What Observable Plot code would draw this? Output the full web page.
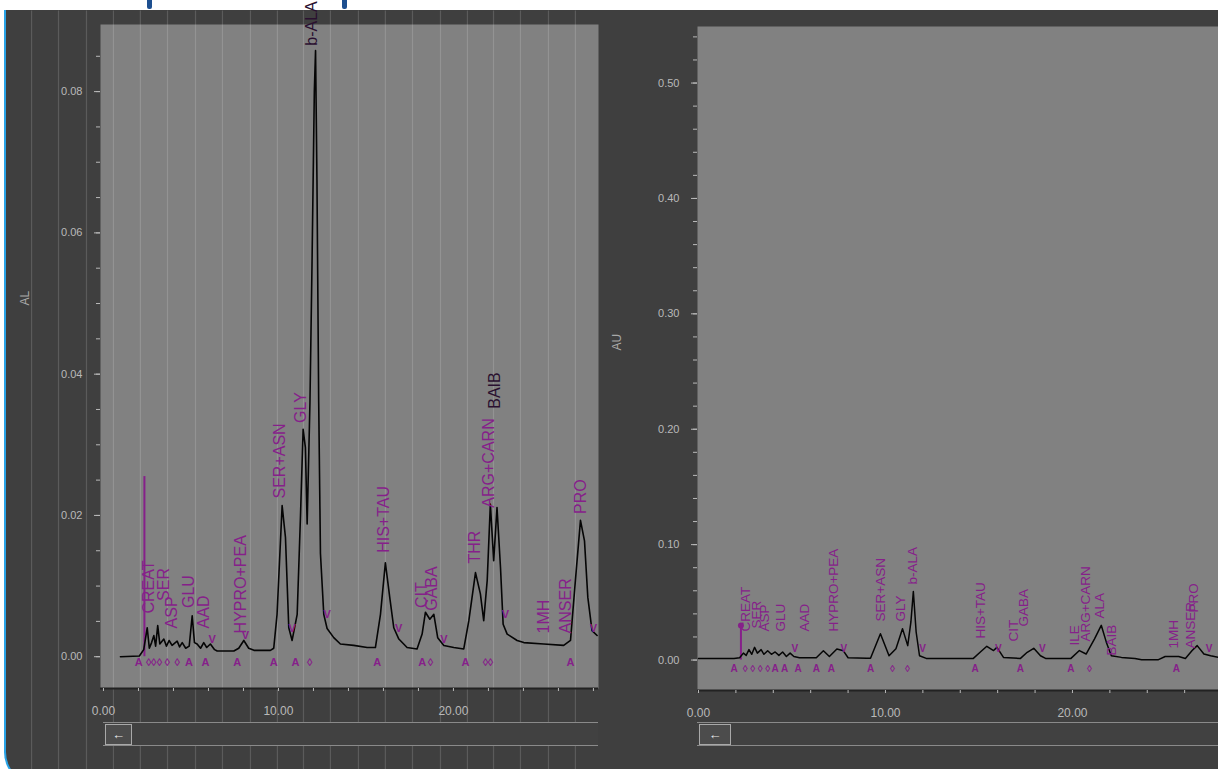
<!DOCTYPE html>
<html>
<head>
<meta charset="utf-8">
<script src="https://cdn.jsdelivr.net/npm/d3@7"></script>
<script src="https://cdn.jsdelivr.net/npm/@observablehq/plot@0.6"></script>
<style>
  html, body { margin: 0; padding: 0; background: #ffffff; width: 1218px; height: 769px; overflow: hidden; }
  body { position: relative; font-family: "Liberation Sans", Arial, sans-serif; }
  #frame { position: absolute; left: 4px; top: 10px; width: 1230px; height: 776px; box-sizing: border-box;
           background: #3f3f3f; border-left: 2px solid #29a3e6; border-bottom: 2px solid #29a3e6; border-bottom-left-radius: 34px; }
  .tfrag { position: absolute; top: 0; width: 5px; height: 9px; background: #1d4f8f; border-radius: 0 0 2px 2px; }
  .pane { position: absolute; top: 10px; }
  .scroll { position: absolute; top: 722px; height: 24px; box-sizing: border-box; border-top: 1px solid #8a8a8a; border-bottom: 1px solid #8a8a8a; background: #414141; }
  .btn { position: absolute; top: 724px; height: 21px; box-sizing: border-box; border: 1px solid #a9a9a9; background: #4c4c4c;
         color: #e8e8e8; font-size: 13px; line-height: 19px; text-align: center; }
</style>
</head>
<body>
<div id="frame"></div>
<div class="tfrag" style="left:147px"></div>
<div class="tfrag" style="left:342px"></div>
<div id="left" class="pane" style="left:6px"></div>
<div id="right" class="pane" style="left:600px"></div>
<div class="scroll" style="left:103px;width:495px"></div>
<div class="btn" style="left:105px;width:27px">&#8592;</div>
<div class="scroll" style="left:697px;width:521px"></div>
<div class="btn" style="left:699px;width:32px">&#8592;</div>
<script>
// ---------------- LEFT PANEL DATA (minutes, AU) ----------------
const leftTime = [0.97, 2.05, 2.30, 2.50, 2.62, 2.75, 2.88, 2.98, 3.10, 3.22, 3.45, 3.60, 3.75, 3.92, 4.21, 4.35, 4.50, 4.70, 4.90, 5.07,
  5.20, 5.35, 5.55, 5.73, 5.90, 6.11, 6.35, 6.50, 7.45, 7.73, 8.02, 8.30, 8.60, 9.54, 9.73, 9.92, 10.21, 10.40, 10.59, 10.78,
  11.07, 11.26, 11.41, 11.54, 11.64, 11.80, 11.92, 12.05, 12.12, 12.20, 12.30, 12.40, 12.59, 12.78, 13.16, 13.54, 14.30, 15.07, 15.54, 15.83,
  16.11, 16.36, 16.59, 16.88, 17.35, 17.92, 18.21, 18.40, 18.65, 18.88, 19.10, 19.45, 20.02, 20.59, 20.88, 21.26, 21.54, 21.73, 21.93, 22.11,
  22.30, 22.49, 22.69, 22.84, 23.07, 23.64, 24.02, 25.16, 26.30, 26.69, 26.97, 27.26, 27.49, 27.68, 27.92, 28.21];
const leftSignal = [0.0000, 0.0001, 0.0010, 0.0041, 0.0012, 0.0020, 0.0030, 0.0015, 0.0044, 0.0018, 0.0025, 0.0015, 0.0023, 0.0016, 0.0022, 0.0014, 0.0020, 0.0012, 0.0015, 0.0058,
  0.0020, 0.0018, 0.0012, 0.0020, 0.0013, 0.0018, 0.0010, 0.0008, 0.0008, 0.0012, 0.0023, 0.0012, 0.0009, 0.0009, 0.0012, 0.0060, 0.0214, 0.0169, 0.0041, 0.0023,
  0.0060, 0.0200, 0.0322, 0.0296, 0.0188, 0.0360, 0.0560, 0.0800, 0.0858, 0.0675, 0.0360, 0.0146, 0.0060, 0.0040, 0.0027, 0.0018, 0.0016, 0.0013, 0.0013, 0.0060,
  0.0133, 0.0084, 0.0041, 0.0025, 0.0013, 0.0011, 0.0032, 0.0063, 0.0053, 0.0060, 0.0027, 0.0016, 0.0013, 0.0011, 0.0051, 0.0119, 0.0089, 0.0051, 0.0108, 0.0216,
  0.0136, 0.0211, 0.0126, 0.0046, 0.0032, 0.0023, 0.0020, 0.0018, 0.0016, 0.0023, 0.0108, 0.0193, 0.0164, 0.0084, 0.0037, 0.0030];

const leftLabelNames = ["CREAT", "SER", "ASP", "GLU", "AAD", "HYPRO+PEA", "SER+ASN", "GLY", "b-ALA", "HIS+TAU", "CIT", "GABA", "THR", "ARG+CARN", "BAIB", "1MH", "ANSER", "PRO"];
const leftLabelTimes = [2.57, 3.43, 3.92, 4.88, 5.73, 7.83, 10.08, 11.26, 11.89, 16.02, 18.21, 18.78, 21.20, 22.02, 22.34, 25.16, 26.40, 27.26];
const leftLabelLevels = [0.0061, 0.0079, 0.0040, 0.0069, 0.0040, 0.0033, 0.0224, 0.0331, 0.0865, 0.0147, 0.0069, 0.0065, 0.0132, 0.0211, 0.0351, 0.0033, 0.0033, 0.0202];

const leftSpikeTime = [2.34];
const leftSpikeTop = [0.0255];

const leftMarkTime = [2.02, 4.88, 5.83, 7.64, 9.73, 10.97, 15.64, 18.21, 20.69, 26.69,
  2.59, 2.87, 3.20, 3.64, 4.21, 11.79, 18.69, 21.83, 22.11,
  6.21, 8.11, 10.78, 12.78, 16.87, 19.45, 22.97, 28.00];
const leftMarkLevel = [-0.0008, -0.0008, -0.0008, -0.0008, -0.0008, -0.0008, -0.0008, -0.0008, -0.0008, -0.0008,
  -0.0008, -0.0008, -0.0008, -0.0008, -0.0008, -0.0008, -0.0008, -0.0008, -0.0008,
  0.0025, 0.0030, 0.0040, 0.0060, 0.0040, 0.0025, 0.0060, 0.0040];
const leftMarkGlyph = ["A", "A", "A", "A", "A", "A", "A", "A", "A", "A",
  "\u25CA", "\u25CA", "\u25CA", "\u25CA", "\u25CA", "\u25CA", "\u25CA", "\u25CA", "\u25CA",
  "V", "V", "V", "V", "V", "V", "V", "V"];

const leftStripes = [-4.11, -2.57, -0.97, 0.57, 2.11, 3.66, 5.26, 6.80, 8.40, 9.94, 11.43, 12.97, 14.57, 16.11, 17.66, 19.26, 20.80, 22.29, 23.83, 25.43, 26.97];

const leftXTicks = [0, 2, 4, 6, 8, 10, 12, 14, 16, 18, 20, 22, 24, 26, 28];
const leftYMinor = [0, 0.005, 0.01, 0.015, 0.02, 0.025, 0.03, 0.035, 0.04, 0.045, 0.05, 0.055, 0.06, 0.065, 0.07, 0.075, 0.08, 0.085];
const leftYMajor = [0, 0.02, 0.04, 0.06, 0.08];

// ---------------- RIGHT PANEL DATA ----------------
const rightTime = [0.00, 1.90, 2.20, 2.40, 2.55, 2.70, 2.85, 3.00, 3.15, 3.35, 3.50, 3.70, 3.90, 4.10, 4.30, 4.50, 4.70, 4.90, 5.10, 5.40,
  6.30, 6.68, 7.00, 7.40, 7.75, 8.00, 9.00, 9.20, 9.73, 10.19, 10.56, 10.91, 11.19, 11.36, 11.49, 11.64, 11.82, 12.18, 14.70, 15.06,
  15.42, 15.78, 15.96, 16.31, 17.22, 17.58, 17.93, 18.29, 18.56, 19.92, 20.37, 20.73, 21.18, 21.54, 21.81, 22.08, 22.62, 23.34, 23.70, 24.60,
  24.96, 25.68, 26.04, 26.40, 26.67, 27.03, 27.39, 27.80];
const rightSignal = [0.0014, 0.0014, 0.0020, 0.0060, 0.0040, 0.0090, 0.0050, 0.0110, 0.0060, 0.0090, 0.0050, 0.0080, 0.0050, 0.0070, 0.0040, 0.0070, 0.0030, 0.0060, 0.0030, 0.0020,
  0.0020, 0.0080, 0.0030, 0.0095, 0.0080, 0.0020, 0.0015, 0.0015, 0.0228, 0.0037, 0.0097, 0.0272, 0.0125, 0.0330, 0.0594, 0.0243, 0.0037, 0.0014, 0.0014, 0.0067,
  0.0119, 0.0082, 0.0110, 0.0023, 0.0014, 0.0067, 0.0102, 0.0037, 0.0014, 0.0014, 0.0082, 0.0052, 0.0184, 0.0301, 0.0155, 0.0037, 0.0023, 0.0014, 0.0003, 0.0003,
  0.0031, 0.0031, 0.0014, 0.0082, 0.0125, 0.0052, 0.0037, 0.0023];

const rightLabelNames = ["CREAT", "SER", "ASP", "GLU", "AAD", "HYPRO+PEA", "SER+ASN", "GLY", "b-ALA", "HIS+TAU", "CIT", "GABA", "ILE", "ARG+CARN", "ALA", "BAIB", "1MH", "ANSER", "PRO"];
const rightLabelTimes = [2.51, 3.10, 3.55, 4.40, 5.69, 7.22, 9.73, 10.80, 11.44, 15.08, 16.84, 17.38, 20.10, 20.73, 21.44, 22.09, 25.40, 26.30, 26.47];
const rightLabelLevels = [0.0247, 0.0273, 0.0247, 0.0247, 0.0247, 0.0247, 0.0334, 0.0334, 0.0654, 0.0186, 0.0160, 0.0290, 0.0126, 0.0160, 0.0360, 0.0040, 0.0100, 0.0100, 0.0412];

const rightSpikeTime = [2.27];
const rightSpikeTop = [0.0300];

const rightMarkTime = [1.91, 4.10, 4.60, 5.33, 6.31, 7.11, 9.20, 14.79, 17.22, 19.92, 25.55,
  2.50, 2.90, 3.30, 3.70, 10.37, 11.18, 20.91,
  5.15, 7.77, 11.99, 16.04, 18.39, 27.30];
const rightMarkLevel = [-0.0072, -0.0072, -0.0072, -0.0072, -0.0072, -0.0072, -0.0072, -0.0072, -0.0072, -0.0072, -0.0072,
  -0.0072, -0.0072, -0.0072, -0.0072, -0.0072, -0.0072, -0.0072,
  0.0100, 0.0100, 0.0100, 0.0100, 0.0100, 0.0100];
const rightMarkGlyph = ["A", "A", "A", "A", "A", "A", "A", "A", "A", "A", "A",
  "\u25CA", "\u25CA", "\u25CA", "\u25CA", "\u25CA", "\u25CA", "\u25CA",
  "V", "V", "V", "V", "V", "V"];

const rightXTicks = [0, 2, 4, 6, 8, 10, 12, 14, 16, 18, 20, 22, 24, 26];
const rightYMinor = [0, 0.02, 0.04, 0.06, 0.08, 0.1, 0.12, 0.14, 0.16, 0.18, 0.2, 0.22, 0.24, 0.26, 0.28, 0.3, 0.32, 0.34, 0.36, 0.38, 0.4, 0.42, 0.44, 0.46, 0.48, 0.5, 0.52, 0.54];
const rightYMajor = [0, 0.1, 0.2, 0.3, 0.4, 0.5];

// ---------------- DRAWING ----------------
const PURPLE = "#86208a";
const DARK_LABELS = new Set(["BAIB", "b-ALA"]);
const TICK = "#b9b9b9";

function panel(o) {
  const trace = o.time.map((t, i) => ({t, v: o.signal[i]}));
  const labels = o.names.map((name, i) => ({name, t: o.labelT[i], v: o.labelV[i]}));
  const marks = o.markT.map((t, i) => ({t, v: o.markV[i], g: o.markG[i]}));
  const spikes = o.spikeT.map((t, i) => ({t, top: o.spikeTop[i]}));
  return Plot.plot({
    width: o.width, height: 759,
    marginLeft: o.ml, marginRight: o.mr, marginTop: o.mt, marginBottom: o.mb,
    style: {background: "transparent", color: TICK, fontFamily: "'Liberation Sans', Arial, sans-serif", fontSize: "11px", overflow: "visible"},
    x: {domain: o.xdom, label: null},
    y: {domain: o.ydom, label: null},
    marks: [
      Plot.frame({fill: "#818181", stroke: null}),
      o.stripes ? Plot.ruleX(o.stripes, {y1: o.stripeY[0], y2: o.stripeY[1], stroke: "#ffffff", strokeOpacity: 0.15, strokeWidth: 1.2}) : null,
      Plot.ruleY([o.ydom[0]], {stroke: "#222222", strokeWidth: 2}),
      Plot.axisY({ticks: o.yMinor, tickFormat: () => "", tickSize: 4, color: TICK, label: null}),
      Plot.axisY({ticks: o.yMajor, tickFormat: d => d.toFixed(2), tickSize: 6, tickPadding: o.yPad, color: TICK, fontSize: 11, label: null}),
      Plot.axisX({ticks: o.xTicks, tickFormat: d => (d % 10 === 0 ? d.toFixed(2) : ""), tickSize: 3, tickPadding: 15, color: TICK, fontSize: 12, label: null}),
      Plot.text([o.axisLabel], {frameAnchor: "left", dx: -o.labelDx, dy: o.labelDy, rotate: -90, fill: "#a8a8a8", fontSize: 12}),
      Plot.ruleX(spikes, {x: "t", y1: 0, y2: "top", stroke: PURPLE, strokeWidth: 2}),
      o.spikeDot ? Plot.dot(spikes, {x: "t", y: "top", r: 3, fill: PURPLE}) : null,
      Plot.line(trace, {x: "t", y: "v", stroke: "#050505", strokeWidth: o.lw}),
      Plot.text(marks, {x: "t", y: "v", text: "g", fill: PURPLE, fontSize: o.markSize, fontWeight: "bold"}),
      Plot.text(labels, {x: "t", y: "v", text: "name", rotate: -90, textAnchor: "start",
        fill: d => (DARK_LABELS.has(d.name) && o.darkLabels ? "#2a1030" : PURPLE), fontSize: o.labelSize})
    ]
  });
}

document.getElementById("left").append(panel({
  width: 594, ml: 94, mr: 2, mt: 14, mb: 81,
  xdom: [-0.17, 28.29], ydom: [-0.0045, 0.0895],
  time: leftTime, signal: leftSignal,
  names: leftLabelNames, labelT: leftLabelTimes, labelV: leftLabelLevels,
  markT: leftMarkTime, markV: leftMarkLevel, markG: leftMarkGlyph,
  spikeT: leftSpikeTime, spikeTop: leftSpikeTop, spikeDot: false,
  stripes: leftStripes, stripeY: [-0.016, 0.0914],
  xTicks: leftXTicks, yMinor: leftYMinor, yMajor: leftYMajor, yPad: 12,
  axisLabel: "AL", labelDx: 75, labelDy: -51,
  lw: 1.6, labelSize: 16, markSize: 11, darkLabels: true
}));

document.getElementById("right").append(panel({
  width: 618, ml: 97, mr: 0, mt: 16, mb: 79,
  xdom: [-0.053, 27.81], ydom: [-0.0264, 0.549],
  time: rightTime, signal: rightSignal,
  names: rightLabelNames, labelT: rightLabelTimes, labelV: rightLabelLevels,
  markT: rightMarkTime, markV: rightMarkLevel, markG: rightMarkGlyph,
  spikeT: rightSpikeTime, spikeTop: rightSpikeTop, spikeDot: true,
  stripes: null, stripeY: null,
  xTicks: rightXTicks, yMinor: rightYMinor, yMajor: rightYMajor, yPad: 12,
  axisLabel: "AU", labelDx: 80, labelDy: -8,
  lw: 1.5, labelSize: 13.5, markSize: 10, darkLabels: false
}));
</script>
</body>
</html>
